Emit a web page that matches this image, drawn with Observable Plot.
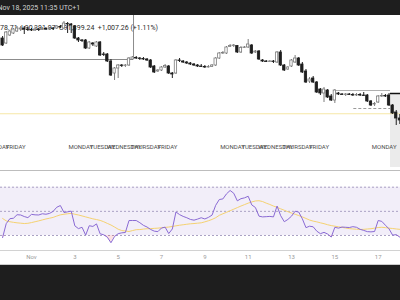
<!DOCTYPE html>
<html><head><meta charset="utf-8">
<script src="https://cdn.jsdelivr.net/npm/d3@7"></script>
<script src="https://cdn.jsdelivr.net/npm/@observablehq/plot@0.6"></script>
<style>
html,body{margin:0;padding:0;background:#fff;}
#root{width:400px;height:300px;overflow:hidden;font-family:Roboto,sans-serif;}
#root svg{display:block;}
</style></head><body><div id="root"></div>
<script>
// ---- data (4h BTC candles) ----
const startTime = "2025-10-30T16:00:00Z";
const open = [108400,107400,109000,109400,109800,110200,110400,110200,110100,110000,
110200,110100,110300,110200,110400,110400,110700,110400,111300,111200,
110800,108400,108000,108000,106400,107400,106800,107600,105200,105200,
103800,101400,102400,103000,102900,103000,104200,104500,104400,104300,
104200,104000,102800,101800,102000,102600,102800,101400,101400,104000,
103800,103600,103400,103200,103000,102800,102700,102600,102700,103000,
104400,105400,105400,106700,106900,106900,105600,106500,106600,107000,
105600,105800,104000,103800,103700,103800,103600,105600,103000,102200,
102800,103600,104400,103200,101800,99800,100400,99600,98200,97400,
98000,96800,96000,97400,97200,97100,97200,97100,97000,97100,
97000,97000,95800,95200,95600,96800,96900,97000,95000,93600,
92400];
const high = [108800,109800,110000,110400,110800,110800,110800,110600,110400,110600,
110400,110600,110600,110600,110600,111000,111000,111800,111600,111400,
111000,108600,108200,108200,107800,107600,107800,107800,105600,105400,
104200,102600,103200,103200,103200,104600,104800,104800,104600,104600,
104400,104200,103000,102200,102800,103200,103000,101600,104200,104400,
104000,103800,103600,103400,103200,103200,103000,103000,103200,104600,
105600,105800,106800,107200,107200,107000,106800,106800,108200,107200,
106000,106000,104200,104000,104000,104000,105800,106000,103200,102800,
104200,105000,104600,103600,102200,100600,100800,99800,98400,98600,
98200,97200,98200,97600,97400,97400,97400,97400,97400,97400,
97600,97200,96000,95600,97000,97400,97200,97400,95200,94000,
93200];
const low = [106800,107200,108800,109200,109600,109800,109200,109800,109800,109800,
109800,110000,110000,110000,110000,110200,110400,110200,109400,109400,
108200,107600,107600,106200,106200,106800,106600,104800,104800,103600,
100800,100000,100400,102600,102600,102800,104000,104200,104000,104000,
103800,102400,101400,101600,101800,102400,101200,100400,101200,103600,
103400,103200,103000,102800,102600,102600,102400,102500,102600,102800,
104200,105200,105200,106600,106600,105400,105400,106400,106400,105200,
105400,104000,103600,103600,103600,103400,103400,102800,101800,102000,
102600,103400,102800,101400,99400,99400,99400,97400,97000,95600,
96400,95800,95400,97000,97000,96800,97000,96800,96800,96800,
96800,95600,94800,94800,95400,96600,96600,94800,93200,91000,
91200];
const close = [107000,109600,109800,110200,110400,110400,110200,110100,110000,110200,
110100,110300,110200,110400,110300,110800,110600,111400,111200,111000,
108400,108000,107900,106400,107600,107200,107600,105000,105100,103800,
101000,102400,103000,102900,103000,104400,104600,104400,104300,104200,
104000,102600,101600,102000,102600,102900,101400,101200,104000,103900,
103600,103400,103200,103000,102800,102700,102600,102700,103000,104400,
105400,105500,106600,106900,107000,105600,106500,106600,107200,105400,
105800,104200,103800,103700,103800,103700,105600,103000,102000,102600,
104000,104400,103000,101600,99600,100200,99600,97600,97400,98200,
96600,96000,98000,97200,97100,97200,97100,97000,97100,97000,
96900,95800,95000,95300,96800,96900,96800,95000,93400,92400,
92000];
const rsi = [28.3,39.8,43.9,44.3,47.2,47.0,45.7,44.8,47.5,47.1,
47.0,48.0,47.6,48.3,50.0,53.4,54.8,49.0,49.6,50.2,
38.0,35.7,36.8,30.3,38.1,37.5,39.6,31.4,30.6,28.6,
24.0,29.2,31.5,32.2,32.5,42.4,42.4,42.4,40.6,38.4,
37.0,35.0,33.6,33.2,36.2,36.9,31.6,35.4,49.5,47.3,
45.8,44.7,43.3,42.7,43.6,44.7,43.7,45.0,46.9,55.0,
59.8,60.3,64.5,67.3,65.0,58.7,60.5,61.2,62.5,55.3,
53.2,46.0,45.4,45.6,45.8,45.4,54.4,46.4,41.4,43.3,
46.0,50.1,49.4,43.8,36.5,37.7,37.2,33.6,31.5,32.6,
31.2,28.7,36.8,36.1,37.0,36.8,36.6,37.3,36.8,35.1,
34.2,33.2,33.0,33.3,42.4,41.7,38.5,35.5,30.3,30.7,
28.6];
const rsiMa = [44.1,42.1,41.4,40.9,40.5,40.2,39.9,40.1,40.7,41.4,
42.1,42.9,43.7,44.3,45.0,46.1,47.1,47.6,48.0,48.3,
47.6,47.0,46.2,45.4,44.6,43.8,43.2,42.5,41.4,40.0,
38.7,37.0,35.2,34.1,33.7,33.3,34.1,34.8,34.9,35.3,
35.6,35.7,35.9,36.1,36.4,36.7,37.0,37.5,38.0,38.5,
38.9,39.3,39.7,39.9,40.2,40.5,41.3,42.2,43.3,44.7,
46.7,48.0,49.2,50.5,51.8,53.1,54.4,55.6,56.8,57.8,
58.6,58.8,58.1,56.8,55.7,54.4,53.3,52.1,50.9,49.7,
48.6,47.6,46.5,45.4,44.1,42.8,41.9,41.3,40.5,39.8,
38.9,38.2,37.7,37.2,36.7,36.2,35.7,35.4,35.2,35.0,
35.1,35.4,35.6,36.1,36.6,36.8,36.5,36.1,35.8,35.4,
35.1];
const rsiLevels = [70, 50, 30];
const axisTicks = ["2025-11-01","2025-11-03","2025-11-05","2025-11-07","2025-11-09","2025-11-11","2025-11-13","2025-11-15","2025-11-17"];
const axisLabels = ["Nov","3","5","7","9","11","13","15","17"];
const dayDates = ["2025-10-30","2025-10-31","2025-11-03","2025-11-04","2025-11-05","2025-11-06","2025-11-07","2025-11-10","2025-11-11","2025-11-12","2025-11-13","2025-11-14","2025-11-17"];
const dayNames = ["THURSDAY","FRIDAY","MONDAY","TUESDAY","WEDNESDAY","THURSDAY","FRIDAY","MONDAY","TUESDAY","WEDNESDAY","THURSDAY","FRIDAY","MONDAY"];
const headerDate = "Nov 18, 2025 11:35 UTC+1";
const legendText = "78.71  L90,391.97  C91,399.24  +1,007.26 (+1.11%)";
const priceLineLevel = 93350;
// drawn annotations: [time start, time end, price]
const leftBox = ["2025-10-30T13:40:00Z", "2025-11-05T17:00:00Z", 104200];
const rightBoxTop = ["2025-11-14T22:30:00Z", "2025-11-17T13:40:00Z", 98000];
const rightBoxDark = ["2025-11-17T13:40:00Z", "2025-11-18T00:43:00Z", 97400];
const rightDashed = ["2025-11-15T21:00:00Z", "2025-11-17T13:40:00Z", 94400];
const rightShade = ["2025-11-17T13:40:00Z", "2025-11-18T00:43:00Z", 97400, 82600];

// ---- build ----
const root = document.getElementById("root");
const xDomain = [new Date("2025-10-30T13:40:00Z"), new Date("2025-11-18T00:43:00Z")];
const t0 = new Date(startTime);
const candles = open.map((o, i) => ({t: d3.utcHour.offset(t0, 4 * i), open: o, high: high[i], low: low[i], close: close[i], rsi: rsi[i], ma: rsiMa[i]}));
const up = candles.filter(d => d.close >= d.open);
const down = candles.filter(d => d.close < d.open);
const days = dayDates.map((d, i) => ({date: new Date(d + "T00:00:00Z"), name: dayNames[i]}));
const bx1 = d => d3.utcMinute.offset(d.t, -78);
const bx2 = d => d3.utcMinute.offset(d.t, 78);
const D = s => new Date(s);

function band(height, color, extra) {
  return Plot.plot({
    width: 400, height, margin: 0, x: {axis: null}, y: {axis: null},
    style: {fontFamily: "Roboto, sans-serif", background: color},
    marks: [Plot.frame({fill: color, stroke: null}), ...(extra || [])]
  });
}

// header bar
root.appendChild(band(15, "#1e1e1e", [
  Plot.text([headerDate], {text: d => d, frameAnchor: "left", dx: -3, dy: 0, fontSize: 7, fill: "#d4d4d4"})
]));

const pricePlot = Plot.plot({
  width: 400, height: 155, margin: 0,
  x: {type: "utc", domain: xDomain, axis: null},
  y: {domain: [82000, 113000], axis: null},
  style: {fontFamily: "Roboto, sans-serif", background: "white"},
  marks: [
    Plot.rect([rightShade], {x1: d => D(d[0]), x2: d => D(d[1]), y1: d => d[2], y2: d => d[3], fill: "#ebebeb"}),
    Plot.ruleY([priceLineLevel], {stroke: "#f6e7a6", strokeWidth: 1}),
    Plot.text([legendText], {text: d => d, frameAnchor: "top-left", dx: -0.5, dy: 9.5, fontSize: 7, fill: "#2a2a2a"}),
    Plot.text(days, {x: "date", text: "name", frameAnchor: "bottom", dy: -21.7, dx: 6, fontSize: 6, fill: "#4d4d4d"}),
    Plot.ruleY([leftBox], {x1: d => D(d[0]), x2: d => D(d[1]), y: d => d[2], stroke: "#8c8c8c"}),
    Plot.ruleX([leftBox], {x: d => D(d[1]), y1: d => d[2], y2: 113000, stroke: "#8c8c8c"}),
    Plot.ruleY([rightBoxTop], {x1: d => D(d[0]), x2: d => D(d[1]), y: d => d[2], stroke: "#b0b0b0"}),
    Plot.ruleY([rightDashed], {x1: d => D(d[0]), x2: d => D(d[1]), y: d => d[2], stroke: "#9a9a9a", strokeDasharray: "3,2"}),
    Plot.ruleX(up, {x: "t", y1: "low", y2: "high", stroke: "#7d7d7d"}),
    Plot.ruleX(down, {x: "t", y1: "low", y2: "high", stroke: "#1e1e1e"}),
    Plot.rect(up, {x1: bx1, x2: bx2, y1: "open", y2: "close", fill: "#ffffff", stroke: "#7d7d7d", strokeWidth: 0.8}),
    Plot.rect(down, {x1: bx1, x2: bx2, y1: "open", y2: "close", fill: "#1e1e1e", stroke: "#1e1e1e", strokeWidth: 0.8}),
    Plot.ruleY([rightBoxDark], {x1: d => D(d[0]), x2: d => D(d[1]), y: d => d[2], stroke: "#111", strokeWidth: 1.5})
  ]
});
root.appendChild(pricePlot);
root.appendChild(band(1, "#bdbdbd"));

const rsiPlot = Plot.plot({
  width: 400, height: 79, margin: 0,
  x: {type: "utc", domain: xDomain, axis: null},
  y: {domain: [0, 100], range: [100.2, -20.5], axis: null},
  style: {background: "white"},
  marks: [
    Plot.rect([[30, 70]], {x1: () => xDomain[0], x2: () => xDomain[1], y1: d => d[0], y2: d => d[1], fill: "#7e57c2", fillOpacity: 0.1}),
    Plot.ruleY(rsiLevels, {stroke: "#aaa1c4", strokeDasharray: "2,2"}),
    Plot.areaY(candles, {x: "t", y1: 30, y2: d => Math.min(d.rsi, 30), fill: "#f23645", fillOpacity: 0.15}),
    Plot.lineY(candles, {x: "t", y: "ma", stroke: "#f5d271", strokeWidth: 1}),
    Plot.lineY(candles, {x: "t", y: "rsi", stroke: "#8a6ad4", strokeWidth: 1})
  ]
});
root.appendChild(rsiPlot);
root.appendChild(band(1, "#d2d2d2"));

const axisPlot = Plot.plot({
  width: 400, height: 13, marginTop: 0, marginLeft: 0, marginRight: 0, marginBottom: 13,
  x: {type: "utc", domain: xDomain, ticks: axisTicks.map(d => new Date(d + "T00:00:00Z")),
      tickFormat: d => axisLabels[axisTicks.indexOf(d.toISOString().slice(0, 10))],
      tickSize: 0, tickPadding: 3.5, label: null},
  y: {axis: null},
  style: {fontFamily: "Roboto, sans-serif", fontSize: "6px", color: "#9a9a9a", background: "white"},
  marks: [Plot.frame({stroke: "none"})]
});
root.appendChild(axisPlot);
root.appendChild(band(1, "#cdcdcd"));
root.appendChild(band(35, "#1e1e1e"));
</script></body></html>
